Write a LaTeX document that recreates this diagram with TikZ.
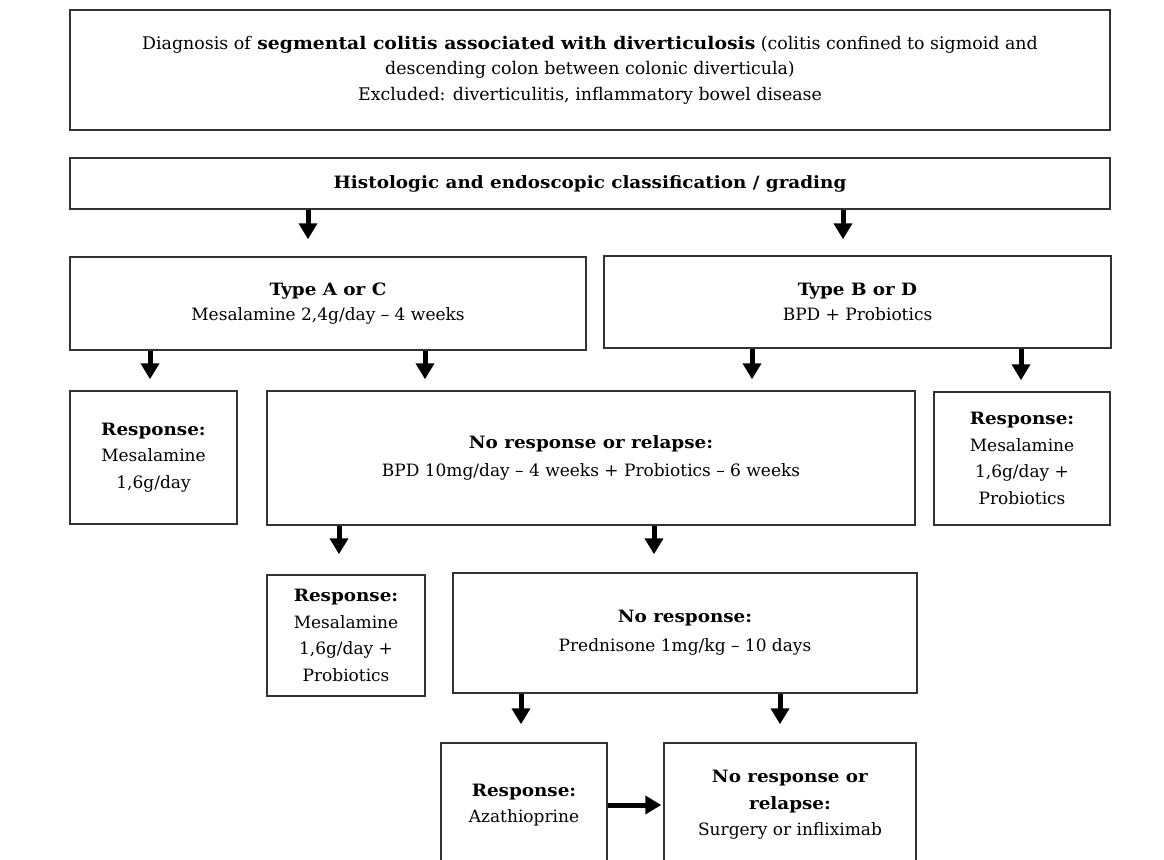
\documentclass[tikz,border=0pt]{standalone}
\usepackage{fontspec}
\setmainfont{DejaVu Serif}[BoldFeatures={FakeStretch=1.08}]
\usetikzlibrary{arrows.meta}
\tikzset{
  box/.style={draw=black!80, line width=1.5pt, fill=white, align=center, inner sep=0pt},
  arr/.style={line width=5pt, draw=black, -{Triangle[width=18pt,length=16pt]}},
}
\begin{document}
\begin{tikzpicture}[x=1pt,y=-1pt, font=\fontsize{17}{26.5}\selectfont]
\clip (0,0) rectangle (1164,859);
\fill[white] (0,0) rectangle (1164,859);

\node[box, minimum width=1040, minimum height=120, font=\fontsize{17.4}{25.5}\selectfont] (b1) at (590,70)
  {Diagnosis of \textbf{segmental colitis associated with diverticulosis} (colitis confined to sigmoid and\\ descending colon between colonic diverticula)\\ Excluded: diverticulitis, inflammatory bowel disease};
\node[box, minimum width=1040, minimum height=51] (b2) at (590,183.5)
  {\textbf{Histologic and endoscopic classification / grading}};

\node[box, minimum width=516, minimum height=93] (tAC) at (328,303.5)
  {\textbf{Type A or C}\\[-2pt] Mesalamine 2,4g/day – 4 weeks};
\node[box, minimum width=507, minimum height=92] (tBD) at (857.5,302)
  {\textbf{Type B or D}\\[-2pt] BPD + Probiotics};

\node[box, minimum width=167, minimum height=133] (rL) at (153.5,457.5)
  {\textbf{Response:}\\ Mesalamine\\ 1,6g/day};
\node[box, minimum width=648, minimum height=134] (nR) at (591,458)
  {\textbf{No response or relapse:}\\[1.5pt] BPD 10mg/day – 4 weeks + Probiotics – 6 weeks};
\node[box, minimum width=176, minimum height=133] (rR) at (1022,458.5)
  {\textbf{Response:}\\ Mesalamine\\ 1,6g/day +\\ Probiotics};

\node[box, minimum width=158, minimum height=121] (rM) at (346,635.5)
  {\textbf{Response:}\\ Mesalamine\\ 1,6g/day +\\ Probiotics};
\node[box, minimum width=464, minimum height=120] (nR2) at (685,633)
  {\textbf{No response:}\\[2.5pt] Prednisone 1mg/kg – 10 days};

\node[box, minimum width=166, minimum height=124] (rA) at (524,805)
  {\textbf{Response:}\\ Azathioprine};
\node[box, minimum width=252, minimum height=124] (fN) at (790,805)
  {\textbf{No response or}\\ \textbf{relapse:}\\ Surgery or infliximab};

\draw[arr, shorten >=17pt] (b2.south -| 308,0) -- (tAC.north -| 308,0);
\draw[arr, shorten >=16pt] (b2.south -| 843,0) -- (tBD.north -| 843,0);
\draw[arr, shorten >=11pt] (tAC.south -| 150,0) -- (rL.north -| 150,0);
\draw[arr, shorten >=11pt] (tAC.south -| 425,0) -- (nR.north -| 425,0);
\draw[arr, shorten >=11pt] (tBD.south -| 752,0) -- (nR.north -| 752,0);
\draw[arr, shorten >=11pt] (tBD.south -| 1021,0) -- (rR.north -| 1021,0);
\draw[arr, shorten >=20pt] (nR.south -| 339,0) -- (rM.north -| 339,0);
\draw[arr, shorten >=18pt] (nR.south -| 654,0) -- (nR2.north -| 654,0);
\draw[arr, shorten >=18pt] (nR2.south -| 521,0) -- (rA.north -| 521,0);
\draw[arr, shorten >=18pt] (nR2.south -| 780,0) -- (fN.north -| 780,0);
\draw[arr, shorten >=2pt] (rA.east) -- (fN.west);
\end{tikzpicture}
\end{document}
